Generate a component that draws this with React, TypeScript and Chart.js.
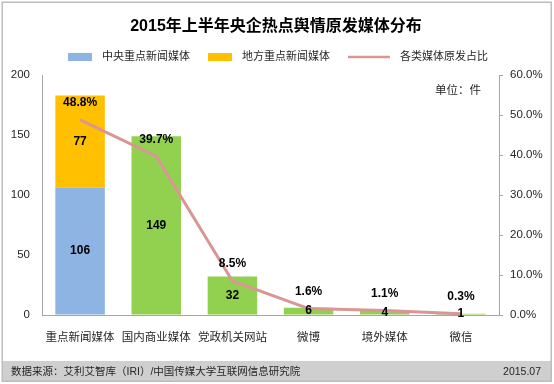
import React, { useEffect, useRef } from 'react';
import { Chart, registerables } from 'chart.js';

Chart.register(...registerables);

const categories = ['重点新闻媒体', '国内商业媒体', '党政机关网站', '微博', '境外媒体', '微信'];
const centralMedia = [106, null, null, null, null, null];
const localMedia = [77, null, null, null, null, null];
const otherMedia = [null, 149, 32, 6, 4, 1];
const shareRatio = [48.8, 39.7, 8.5, 1.6, 1.1, 0.3];
const leftTicks = [0, 50, 100, 150, 200];
const rightTicks = [0, 10, 20, 30, 40, 50, 60];
const legendLabels = ['中央重点新闻媒体', '地方重点新闻媒体', '各类媒体原发占比'];
const titleText = '2015年上半年央企热点舆情原发媒体分布';
const unitText = '单位：件';
const sourceText = '数据来源：艾利艾智库（IRI）/中国传媒大学互联网信息研究院';
const dateText = '2015.07';

const FONT = '"Liberation Sans", "Noto Sans CJK SC", sans-serif';
const BLUE = '#8EB4E3';
const YELLOW = '#FFC000';
const GREEN = '#92D050';
const LINE = '#D99694';
const AXIS = '#A6A6A6';
const TEXT = '#262626';

const decorPlugin = {
  id: 'decor',
  beforeDraw(chart: any) {
    const ctx = chart.ctx;
    ctx.save();
    ctx.fillStyle = '#ffffff';
    ctx.fillRect(0, 0, chart.width, chart.height);
    ctx.fillStyle = '#CFCFCF';
    ctx.fillRect(2, 361, 549, 20);
    ctx.strokeStyle = '#BDBDBD';
    ctx.lineWidth = 1.5;
    ctx.strokeRect(2.25, 2.25, 549, 379);
    ctx.restore();
  },
  afterDraw(chart: any) {
    const ctx = chart.ctx;
    ctx.save();
    // title
    ctx.fillStyle = '#000';
    ctx.font = `bold 16px ${FONT}`;
    ctx.textAlign = 'center';
    ctx.textBaseline = 'middle';
    ctx.fillText(titleText, 276, 27);
    // legend
    ctx.font = `11px ${FONT}`;
    ctx.textAlign = 'left';
    const y = 57;
    let x = 68;
    const colors = [BLUE, YELLOW];
    for (let i = 0; i < 3; i++) {
      if (i < 2) {
        ctx.fillStyle = colors[i];
        ctx.fillRect(x, y - 4, 24, 8);
        x += 24 + 10;
      } else {
        ctx.strokeStyle = LINE;
        ctx.lineWidth = 2.5;
        ctx.beginPath();
        ctx.moveTo(x, y);
        ctx.lineTo(x + 42, y);
        ctx.stroke();
        x += 42 + 10;
      }
      ctx.fillStyle = TEXT;
      ctx.fillText(legendLabels[i], x, y);
      x += ctx.measureText(legendLabels[i]).width + 18;
    }
    // unit
    ctx.font = `11.5px ${FONT}`;
    ctx.fillStyle = TEXT;
    ctx.fillText(unitText, 435, 91);
    // footer
    ctx.font = `10.5px ${FONT}`;
    ctx.fillText(sourceText, 11, 372);
    ctx.textAlign = 'right';
    ctx.fillText(dateText, 541, 372);
    ctx.restore();
  },
  afterDatasetsDraw(chart: any) {
    const ctx = chart.ctx;
    ctx.save();
    ctx.font = `bold 12px ${FONT}`;
    ctx.fillStyle = '#000';
    ctx.textAlign = 'center';
    ctx.textBaseline = 'middle';
    chart.data.datasets.forEach((ds: any, di: number) => {
      const meta = chart.getDatasetMeta(di);
      if (ds.type === 'line') {
        meta.data.forEach((pt: any, i: number) => {
          ctx.fillText(shareRatio[i].toFixed(1) + '%', pt.x, pt.y - 17);
        });
      } else {
        meta.data.forEach((el: any, i: number) => {
          const v = ds.data[i];
          if (v === null || v === undefined) return;
          ctx.fillText(String(v), el.x, (el.y + el.base) / 2);
        });
      }
    });
    ctx.restore();
  },
};

export default function App() {
  const ref = useRef<HTMLCanvasElement>(null);
  useEffect(() => {
    document.body.style.margin = '0';
    const chart = new Chart(ref.current as HTMLCanvasElement, {
      type: 'bar',
      data: {
        labels: categories,
        datasets: [
          {
            type: 'line',
            label: legendLabels[2],
            data: shareRatio,
            yAxisID: 'y1',
            borderColor: LINE,
            borderWidth: 3,
            pointRadius: 0,
            tension: 0,
            order: 0,
          } as any,
          { label: legendLabels[0], data: centralMedia, backgroundColor: BLUE, yAxisID: 'y', order: 1 },
          { label: legendLabels[1], data: localMedia, backgroundColor: YELLOW, yAxisID: 'y', order: 1 },
          { label: '其他', data: otherMedia, backgroundColor: GREEN, yAxisID: 'y', order: 1 },
        ],
      },
      options: {
        responsive: false,
        animation: false,
        devicePixelRatio: 1,
        layout: { padding: { top: 75, left: 0, right: 0, bottom: 0 } },
        datasets: { bar: { categoryPercentage: 1, barPercentage: 0.65 } },
        plugins: { legend: { display: false }, title: { display: false }, tooltip: { enabled: false } },
        scales: {
          x: {
            stacked: true,
            grid: { display: true, drawOnChartArea: false, drawTicks: false },
            border: { color: AXIS, width: 1 },
            ticks: { font: { family: FONT, size: 11.5 }, color: TEXT, padding: 16, maxRotation: 0 },
            afterFit: (s: any) => { s.height = 69; },
          },
          y: {
            stacked: true,
            min: 0,
            max: 200,
            afterBuildTicks: (s: any) => { s.ticks = leftTicks.map((v) => ({ value: v })); },
            grid: { display: true, drawOnChartArea: false, drawTicks: false },
            border: { color: AXIS, width: 1 },
            ticks: { font: { family: FONT, size: 11.5 }, color: TEXT, padding: 12 },
            afterFit: (s: any) => { s.width = 42; },
          },
          y1: {
            position: 'right',
            min: 0,
            max: 60,
            afterBuildTicks: (s: any) => { s.ticks = rightTicks.map((v) => ({ value: v })); },
            grid: { display: true, drawOnChartArea: false, drawTicks: true, tickLength: 4, color: AXIS },
            border: { color: AXIS, width: 1 },
            ticks: {
              font: { family: FONT, size: 11.5 },
              color: TEXT,
              padding: 7,
              callback: (v: any) => Number(v).toFixed(1) + '%',
            },
            afterFit: (s: any) => { s.width = 55; },
          },
        },
      },
      plugins: [decorPlugin],
    });
    return () => chart.destroy();
  }, []);
  return (
    <div style={{ width: 554, height: 384 }}>
      <canvas ref={ref} width={554} height={384} />
    </div>
  );
}
